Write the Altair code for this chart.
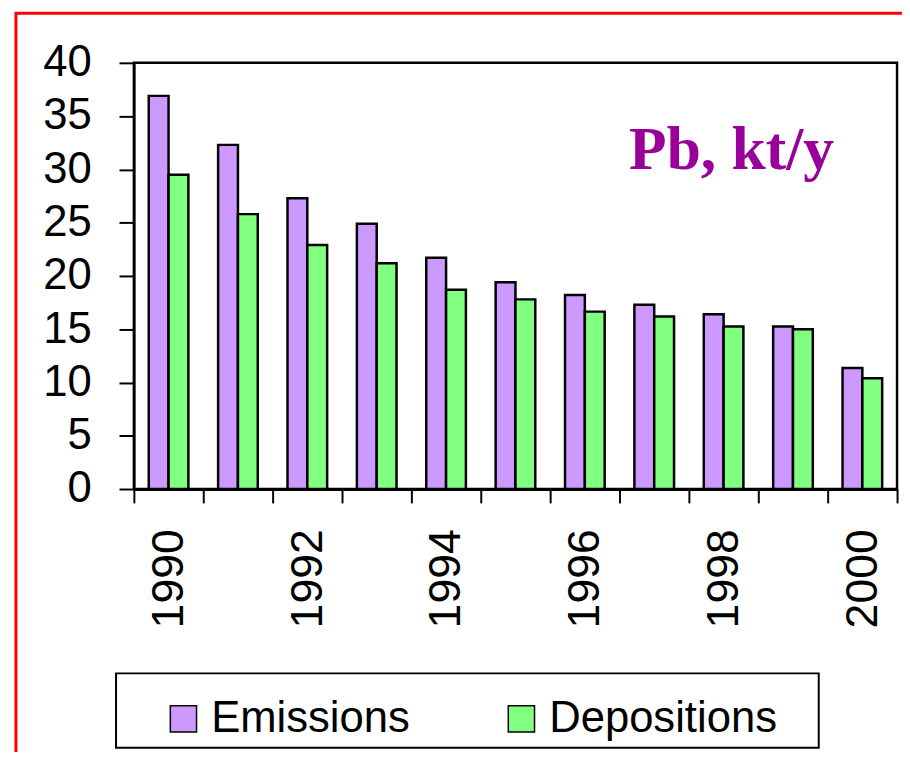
import altair as alt
import pandas as pd

years = [1990, 1991, 1992, 1993, 1994, 1995, 1996, 1997, 1998, 1999, 2000]
emissions = [36.9, 32.3, 27.3, 24.9, 21.7, 19.4, 18.2, 17.3, 16.4, 15.25, 11.35]
depositions = [29.5, 25.8, 22.9, 21.2, 18.7, 17.8, 16.65, 16.2, 15.25, 15.0, 10.4]
series = ["Emissions", "Depositions"]
colors = ["#CC99FF", "#80FF80"]
y_ticks = [0, 5, 10, 15, 20, 25, 30, 35, 40]
title_text = ["Pb, kt/y"]

rows = []
for yr, e, d in zip(years, emissions, depositions):
    rows.append({"year": yr, "series": "Emissions", "value": e})
    rows.append({"year": yr, "series": "Depositions", "value": d})
df = pd.DataFrame(rows)

FONT = "Liberation Sans"

bars = alt.Chart(df).mark_bar(stroke="black", strokeWidth=2.5).encode(
    x=alt.X(
        "year:O",
        scale=alt.Scale(paddingInner=0, paddingOuter=0),
        axis=alt.Axis(
            title=None, labelAngle=-90,
            labelExpr="datum.value % 2 == 0 ? datum.label : ''",
            tickBand="extent", tickSize=14, labelPadding=26,
            labelFontSize=45, labelFont=FONT, labelColor="black",
            domainColor="black", domainWidth=3, tickColor="black", tickWidth=2,
        ),
    ),
    xOffset=alt.XOffset("series:N", sort=series,
                        scale=alt.Scale(paddingOuter=0.75, paddingInner=0)),
    y=alt.Y(
        "value:Q",
        scale=alt.Scale(domain=[0, 40], nice=False),
        axis=alt.Axis(
            title=None, values=y_ticks, grid=False, tickSize=15, labelPadding=28,
            labelFontSize=44, labelFont=FONT, labelColor="black",
            domainColor="black", domainWidth=2.5, tickColor="black", tickWidth=2,
        ),
    ),
    color=alt.Color(
        "series:N", sort=series,
        scale=alt.Scale(domain=series, range=colors),
        legend=alt.Legend(
            title=None, orient="none", legendX=28, legendY=640,
            direction="horizontal", symbolType="square", symbolSize=700,
            symbolStrokeColor="black", symbolStrokeWidth=1.5, symbolOpacity=1,
            labelFontSize=44, labelFont=FONT, labelColor="black", labelLimit=0,
            labelOffset=6, columnPadding=90, padding=0,
        ),
    ),
)

title = alt.Chart(pd.DataFrame({"t": title_text})).mark_text(
    font="Liberation Serif", fontWeight="bold", fontSize=62, color="#990099",
    align="center", baseline="alphabetic",
).encode(x=alt.value(603), y=alt.value(107), text="t:N")

frame_df = pd.DataFrame({"a": [0]})
red_border = alt.Chart(frame_df).mark_rect(
    fill="white", fillOpacity=0, stroke="#FF0000", strokeWidth=3
).encode(x=alt.value(-119), x2=alt.value(900), y=alt.value(-50), y2=alt.value(900))

legend_box = alt.Chart(frame_df).mark_rect(
    fill="white", fillOpacity=0, stroke="black", strokeWidth=2
).encode(x=alt.value(-18), x2=alt.value(691), y=alt.value(616), y2=alt.value(691))

chart = alt.layer(red_border, legend_box, bars, title).properties(
    width=770, height=430,
    padding={"left": 127, "top": 52, "right": 5, "bottom": 262},
    autosize=alt.AutoSizeParams(type="none"),
    background="white",
).configure_view(stroke="black", strokeWidth=2.5)

chart.save("out.html", embed_options={"renderer": "svg", "actions": False})
